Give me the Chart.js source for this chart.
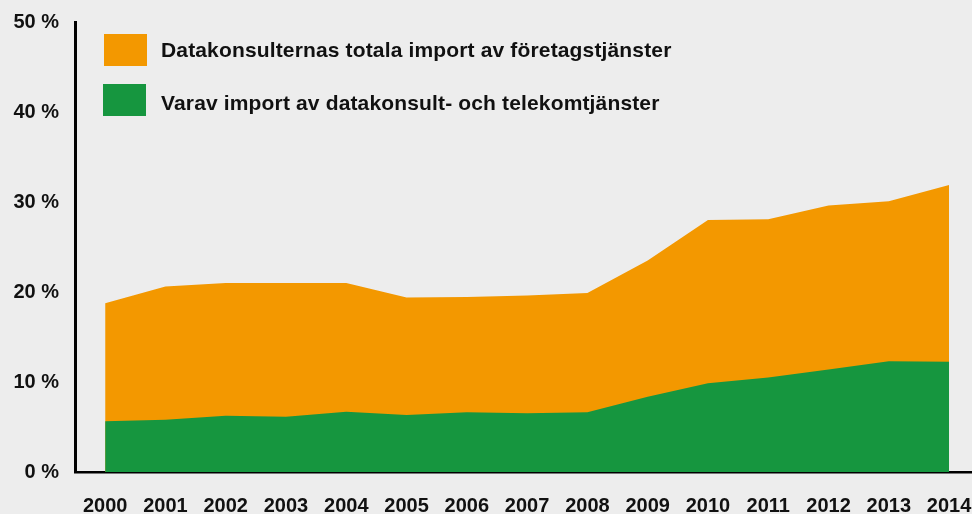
<!DOCTYPE html>
<html>
<head>
<meta charset="utf-8">
<script src="https://cdn.jsdelivr.net/npm/chart.js@4/dist/chart.umd.min.js"></script>
<style>
  html, body { margin: 0; padding: 0; background: #ededed; }
  #wrap { position: relative; width: 972px; height: 514px; overflow: hidden; background: #ededed; }
  canvas { position: absolute; left: 0; top: 0; }
  .lg { position: absolute; font-family: "Liberation Sans", Arial, sans-serif; font-weight: bold; font-size: 21px; line-height: 24px; letter-spacing: 0.15px; color: #111; white-space: nowrap; }
  .sw { position: absolute; width: 43px; height: 32px; }
</style>
</head>
<body>
<div id="wrap">
  <canvas id="c" width="972" height="514"></canvas>
  <div class="sw" style="left:104px;top:34px;background:#f39800"></div>
  <div class="lg" style="left:161px;top:38px;">Datakonsulternas totala import av företagstjänster</div>
  <div class="sw" style="left:103px;top:84px;background:#16963f"></div>
  <div class="lg" style="left:161px;top:91px;">Varav import av datakonsult- och telekomtjänster</div>
</div>
<script>
const years = [2000, 2001, 2002, 2003, 2004, 2005, 2006, 2007, 2008, 2009, 2010, 2011, 2012, 2013, 2014];
const totalImport = [18.75, 20.6, 21.0, 21.0, 21.0, 19.4, 19.45, 19.6, 19.9, 23.5, 28.0, 28.07, 29.6, 30.07, 31.9];
const itTelecomImport = [5.65, 5.8, 6.25, 6.15, 6.7, 6.33, 6.63, 6.52, 6.63, 8.35, 9.85, 10.5, 11.4, 12.3, 12.26];
const yTicks = [0, 10, 20, 30, 40, 50];
const seriesNames = ["Datakonsulternas totala import av företagstjänster", "Varav import av datakonsult- och telekomtjänster"];

const toPts = arr => arr.map((v, i) => ({ x: years[i], y: v }));
const font = { family: '"Liberation Sans", Arial, sans-serif', weight: 'bold', size: 20 };

new Chart(document.getElementById('c'), {
  type: 'line',
  data: {
    datasets: [
      { label: seriesNames[1], data: toPts(itTelecomImport), backgroundColor: '#16963f', borderColor: '#16963f', borderWidth: 0, pointRadius: 0, fill: 'origin', tension: 0, order: 0 },
      { label: seriesNames[0], data: toPts(totalImport), backgroundColor: '#f39800', borderColor: '#f39800', borderWidth: 0, pointRadius: 0, fill: 'origin', tension: 0, order: 1 }
    ]
  },
  options: {
    responsive: false,
    animation: false,
    events: [],
    layout: { padding: { top: 22, left: 0, right: 0, bottom: 0 } },
    plugins: { legend: { display: false }, tooltip: { enabled: false } },
    scales: {
      x: {
        type: 'linear',
        min: 1999.5,
        max: 2014.38,
        grid: { display: false, drawTicks: false },
        border: { display: true, color: '#000', width: 2.5 },
        afterBuildTicks: s => { s.ticks = years.map(v => ({ value: v })); },
        afterFit: s => { s.height = 42; s.paddingLeft = 0; s.paddingRight = 0; },
        ticks: { color: '#111', font: font, padding: 22, maxRotation: 0, autoSkip: false, callback: v => String(v) }
      },
      y: {
        min: 0,
        max: 50,
        grid: { display: false, drawTicks: false },
        border: { display: true, color: '#000', width: 3 },
        afterBuildTicks: s => { s.ticks = yTicks.map(v => ({ value: v })); },
        afterFit: s => { s.width = 75; s.paddingTop = 0; s.paddingBottom = 0; },
        ticks: { color: '#111', font: font, padding: 16, callback: v => v + ' %' }
      }
    }
  }
});
</script>
</body>
</html>
